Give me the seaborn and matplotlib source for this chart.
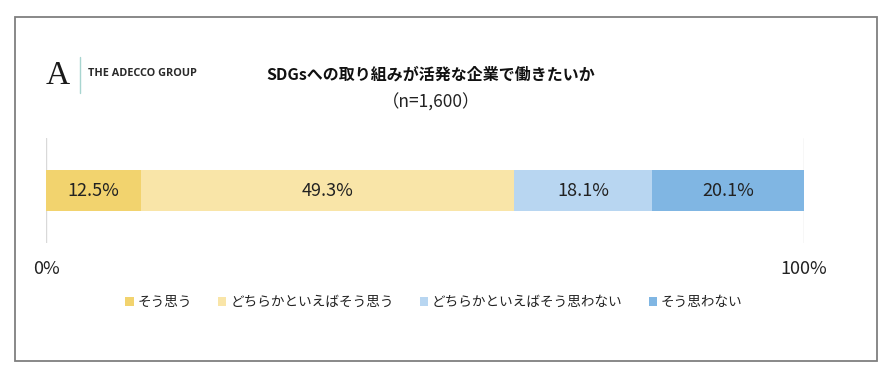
import matplotlib
matplotlib.use("Agg")
import matplotlib.pyplot as plt
from matplotlib.patches import Rectangle, Patch
from matplotlib.lines import Line2D
import numpy as np
import pandas as pd
import seaborn as sns

# データ
categories = ["そう思う", "どちらかといえばそう思う", "どちらかといえばそう思わない", "そう思わない"]
values = [12.5, 49.3, 18.1, 20.1]
colors = ["#F2D36E", "#F9E5A8", "#B8D6F1", "#80B6E3"]
title = "SDGsへの取り組みが活発な企業で働きたいか"
subtitle = "（n=1,600）"
tick_values = [0, 100]
tick_labels = ["0%", "100%"]

sns.set_theme(style="white")
plt.rcParams["font.family"] = ["Noto Sans CJK JP", "DejaVu Sans"]

fig = plt.figure(figsize=(8.96, 3.81), dpi=100)
W, H = 896, 381
ax = fig.add_axes([46 / W, 1 - 243 / H, 758 / W, 105 / H])

# 積み上げ横棒（累積値を大きい順に重ねる）
cum = np.cumsum(values)
for i in reversed(range(len(values))):
    df = pd.DataFrame({"y": ["all"], "x": [cum[i]]})
    sns.barplot(data=df, x="x", y="y", orient="h", color=colors[i],
                width=0.39, saturation=1, edgecolor="none", ax=ax)

starts = cum - np.array(values)
for s, v in zip(starts, values):
    ax.text(s + v / 2, 0, f"{v:.1f}%", ha="center", va="center",
            fontsize=13, color="#222222")

ax.set_xlim(0, 100)
ax.set_ylim(0.5, -0.5)
ax.set_xticks(tick_values)
ax.set_xticklabels(tick_labels, fontsize=13, color="#222222")
ax.set_yticks([])
ax.set_xlabel("")
ax.set_ylabel("")
ax.tick_params(axis="x", length=0, pad=12)
ax.grid(axis="x", color="#D9D9D9", lw=1)
ax.set_axisbelow(True)
for sp in ax.spines.values():
    sp.set_visible(False)

# タイトル
fig.text(431 / W, 1 - 75 / H, title, ha="center", va="center",
         fontsize=11.5, fontweight="bold", color="#111111")
fig.text(431 / W, 1 - 103 / H, subtitle, ha="center", va="center",
         fontsize=12.5, color="#222222")

# ロゴ
fig.text(58 / W, 1 - 76 / H, "A", ha="center", va="center",
         fontsize=24, family="Liberation Serif", color="#1a1a1a")
fig.add_artist(Line2D([80 / W, 80 / W], [1 - 57 / H, 1 - 93 / H],
                      color="#A8D5D0", lw=1, transform=fig.transFigure))
fig.text(88 / W, 1 - 74 / H, "THE ADECCO GROUP", ha="left", va="center",
         fontsize=7.8, fontweight="bold", family="Open Sans", color="#2a2a2a")

# 凡例
handles = [Patch(facecolor=c, edgecolor="none") for c in colors]
fig.legend(handles, categories, loc="center", bbox_to_anchor=(434 / W, 1 - 302 / H),
           ncol=4, frameon=False, fontsize=9.8, handlelength=0.6, handleheight=0.6,
           handletextpad=0.3, columnspacing=1.9, labelcolor="#222222")

# 外枠
fig.add_artist(Rectangle((15 / W, 1 - 361 / H), 862 / W, 344 / H, fill=False,
                         edgecolor="#7F7F7F", lw=1.3, transform=fig.transFigure))

fig.savefig("out.png", dpi=100)
